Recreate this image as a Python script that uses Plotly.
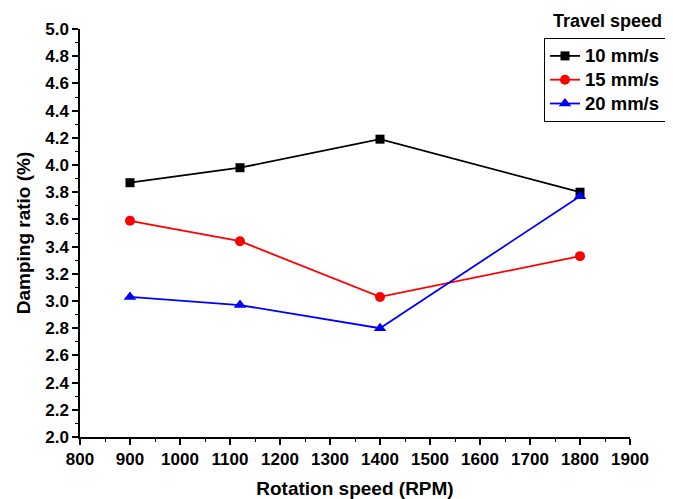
import plotly.graph_objects as go

rpm = [900, 1120, 1400, 1800]
s10 = [3.87, 3.98, 4.19, 3.80]
s15 = [3.59, 3.44, 3.03, 3.33]
s20 = [3.03, 2.97, 2.80, 3.77]
names = ["10 mm/s", "15 mm/s", "20 mm/s"]
colors = ["black", "red", "blue"]
symbols = ["square", "circle", "triangle-up"]
msizes = [9, 10, 11]

FONT = "Liberation Sans, Arial, sans-serif"

fig = go.Figure()
for vals, n, c, s, ms in zip([s10, s15, s20], names, colors, symbols, msizes):
    fig.add_trace(go.Scatter(x=rpm, y=vals, mode="lines+markers",
                             name=f"<span style='font-size:18.5px'>{n}</span>",
                             line=dict(color=c, width=1.8),
                             marker=dict(color=c, symbol=s, size=ms)))

axis_common = dict(showline=True, linecolor="black", linewidth=1.5, ticks="outside",
                   ticklen=6, tickwidth=1.5, tickcolor="black", showgrid=False, zeroline=False,
                   tickfont=dict(family=FONT, size=17, color="black", weight="bold"),
                   mirror=False)

fig.update_xaxes(range=[800, 1900], dtick=100, tick0=800,
                 minor=dict(dtick=50, ticklen=3, tickwidth=1.2, ticks="outside", tickcolor="black"),
                 title=dict(text="Rotation speed (RPM)", standoff=24,
                            font=dict(family=FONT, size=19, color="black", weight="bold")),
                 **axis_common)
fig.update_yaxes(range=[2.0, 5.0001], dtick=0.2, tick0=2.0, tickformat=".1f",
                 minor=dict(dtick=0.1, ticklen=3, tickwidth=1.2, ticks="outside", tickcolor="black"),
                 title=dict(text="Damping ratio (%)", standoff=10,
                            font=dict(family=FONT, size=19, color="black", weight="bold")),
                 **axis_common)

# page body has an 8px margin, so figure is 8px smaller and plot box offset accordingly
fig.update_layout(
    width=665, height=491,
    margin=dict(l=72, r=43, t=21, b=62, autoexpand=False),
    plot_bgcolor="white", paper_bgcolor="white",
    showlegend=True,
    legend=dict(x=(544 - 80) / 550, y=(437 - 38) / 408, xanchor="left", yanchor="top",
                bordercolor="black", borderwidth=1, bgcolor="white",
                font=dict(family=FONT, size=16, color="black", weight="bold"),
                tracegroupgap=0, itemwidth=30),
    annotations=[dict(text="Travel speed", x=(607 - 80) / 550, y=(437 - 21) / 408,
                      xref="paper", yref="paper",
                      showarrow=False, xanchor="center", yanchor="middle",
                      font=dict(family=FONT, size=18, color="black", weight="bold"))],
)

fig.write_html("out.html")
